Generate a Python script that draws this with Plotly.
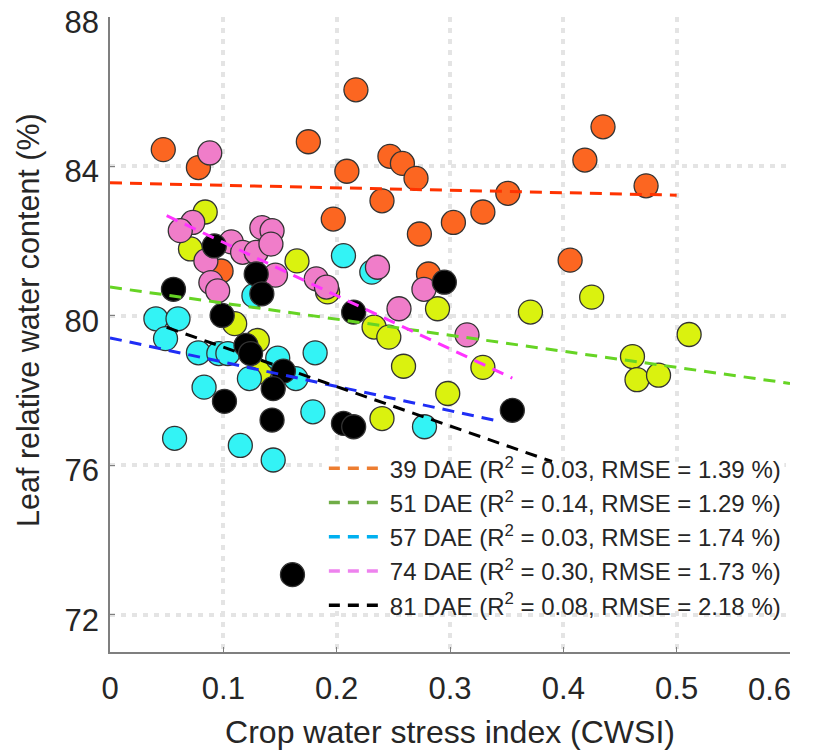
import plotly.graph_objects as go

# ---------------- data ----------------
series_names = ["39 DAE", "51 DAE", "57 DAE", "74 DAE", "81 DAE"]
r2_values = ["0.03", "0.14", "0.03", "0.30", "0.08"]
rmse_values = ["1.39", "1.29", "1.74", "1.73", "2.18"]

x_39 = [0.047, 0.078, 0.098, 0.175, 0.197, 0.209, 0.217, 0.240, 0.247, 0.258,
        0.270, 0.273, 0.281, 0.303, 0.329, 0.351, 0.406, 0.419, 0.435, 0.473]
y_39 = [84.45, 83.97, 81.20, 84.66, 82.59, 83.87, 86.05, 83.08, 84.27, 84.08,
        83.68, 82.19, 81.12, 82.50, 82.78, 83.28, 81.49, 84.17, 85.06, 83.48]

x_51 = [0.084, 0.071, 0.165, 0.192, 0.110, 0.130, 0.132, 0.233, 0.246, 0.259,
        0.289, 0.298, 0.329, 0.371, 0.425, 0.461, 0.465, 0.484, 0.511, 0.240]
y_51 = [82.78, 81.79, 81.47, 80.64, 79.79, 79.34, 78.50, 79.70, 79.43, 78.65,
        80.19, 77.92, 78.62, 80.10, 80.50, 78.91, 78.29, 78.41, 79.50, 77.25]

x_57 = [0.0405, 0.060, 0.049, 0.078, 0.096, 0.104, 0.123, 0.148, 0.164, 0.181,
        0.083, 0.179, 0.057, 0.115, 0.144, 0.127, 0.206, 0.231, 0.2775]
y_57 = [79.92, 79.92, 79.39, 79.01, 78.99, 78.99, 78.32, 78.87, 78.32, 79.01,
        78.09, 77.43, 76.72, 76.53, 76.14, 80.54, 81.61, 81.17, 77.03]

x_74 = [0.088, 0.073, 0.062, 0.0846, 0.089, 0.095, 0.107, 0.117, 0.129, 0.134,
        0.143, 0.142, 0.146, 0.182, 0.191, 0.236, 0.277, 0.255, 0.315]
y_74 = [84.36, 82.50, 82.28, 81.47, 80.89, 80.67, 81.98, 81.70, 81.70, 82.36,
        82.28, 81.92, 81.09, 80.99, 80.77, 81.30, 80.71, 80.19, 79.49]

x_81 = [0.092, 0.129, 0.134, 0.056, 0.099, 0.120, 0.124, 0.153, 0.144, 0.101,
        0.143, 0.206, 0.215, 0.215, 0.295, 0.355, 0.161]
y_81 = [81.87, 81.12, 80.59, 80.71, 80.01, 79.21, 78.99, 78.52, 78.05, 77.71,
        77.21, 77.12, 77.03, 80.10, 80.90, 77.47, 73.07]

# fitted regression lines (end points)
fit_x_39 = [0.0, 0.5]
fit_y_39 = [83.56, 83.23]
fit_x_51 = [0.0, 0.6]
fit_y_51 = [80.77, 78.19]
fit_x_57 = [0.0, 0.34]
fit_y_57 = [79.41, 77.20]
fit_x_74 = [0.05, 0.355]
fit_y_74 = [82.68, 78.33]
fit_x_81 = [0.05, 0.39]
fit_y_81 = [79.69, 76.10]

x_ticks = [0, 0.1, 0.2, 0.3, 0.4, 0.5, 0.6]
x_tick_labels = ["0", "0.1", "0.2", "0.3", "0.4", "0.5", "0.6"]
y_ticks = [72, 76, 80, 84, 88]
y_tick_labels = ["72", "76", "80", "84", "88"]

# ---------------- styles ----------------
marker_colors = ["#FC6621", "#DAF20F", "#33F3F5", "#F07DC9", "#000000"]
fit_colors = ["#FF3300", "#66D424", "#1F2EF5", "#FF33FF", "#000000"]
legend_colors = ["#ED7D31", "#70AD47", "#00B0F0", "#EE82EE", "#000000"]

FONT = "Arial, Liberation Sans, sans-serif"
TXT = "#262626"
TICK_SIZE = 31

scatter_x = [x_39, x_51, x_57, x_74, x_81]
scatter_y = [y_39, y_51, y_57, y_74, y_81]
fits_x = [fit_x_39, fit_x_51, fit_x_57, fit_x_74, fit_x_81]
fits_y = [fit_y_39, fit_y_51, fit_y_57, fit_y_74, fit_y_81]

fig = go.Figure()

for i in range(5):
    fig.add_trace(go.Scatter(
        x=scatter_x[i], y=scatter_y[i], mode="markers",
        marker=dict(size=24, color=marker_colors[i],
                    line=dict(color="#333333", width=1.3)),
        showlegend=False, hoverinfo="x+y"))

for i in range(5):
    fig.add_trace(go.Scatter(
        x=fits_x[i], y=fits_y[i], mode="lines",
        line=dict(color=fit_colors[i], width=3, dash="12px,8px"),
        showlegend=False, hoverinfo="skip"))

for i in range(5):
    fig.add_trace(go.Scatter(
        x=[None], y=[None], mode="lines",
        line=dict(color=legend_colors[i], width=3.5, dash="11px,8px"),
        name=f"{series_names[i]} (R<sup>2</sup> = {r2_values[i]}, RMSE = {rmse_values[i]} %)"))

axis_common = dict(
    showline=True, linecolor="#7F7F7F", linewidth=1.5,
    ticks="inside", ticklen=5, tickcolor="#7F7F7F", tickwidth=1.3,
    showgrid=True, gridcolor="#E4E4E4", gridwidth=4, griddash="5px,6px",
    zeroline=False, tickfont=dict(family=FONT, size=TICK_SIZE, color=TXT),
    automargin=False, ticklabeloverflow="allow",
)

# the last x tick label sits flush left of the axis end in the reference
x_text_shown = x_tick_labels[:-1] + [""]

fig.update_layout(
    width=809, height=742,
    margin=dict(l=102, r=27, t=9, b=98),
    plot_bgcolor="white", paper_bgcolor="white",
    font=dict(family=FONT, color=TXT),
    xaxis=dict(range=[0, 0.6], tickvals=x_ticks, ticktext=x_text_shown,
               ticklabelstandoff=8,
               title=dict(text="Crop water stress index (CWSI)",
                          font=dict(family=FONT, size=32, color=TXT), standoff=18),
               **axis_common),
    yaxis=dict(range=[71, 88], tickvals=y_ticks, ticktext=y_tick_labels,
               ticklabelstandoff=3, ticklabelshift=5, **axis_common),
    legend=dict(x=0.3145, y=0.324, xanchor="left", yanchor="top",
                bgcolor="rgba(0,0,0,0)", borderwidth=0,
                font=dict(family=FONT, size=24, color=TXT),
                itemwidth=56, tracegroupgap=0),
    shapes=[dict(type="rect", xref="x", yref="y",
                 x0=0.187, x1=0.595, y0=72.15, y1=76.09,
                 fillcolor="white", line=dict(width=0), layer="between")],
    annotations=[
        dict(x=x_ticks[-1], xref="x", y=0, yref="paper",
             text=x_tick_labels[-1], showarrow=False,
             xanchor="right", yanchor="top", xshift=3, yshift=-18,
             font=dict(family=FONT, size=TICK_SIZE, color=TXT)),
        dict(x=0, xref="paper", y=0.523, yref="paper",
             text="Leaf relative water content (%)", showarrow=False,
             textangle=-90, xanchor="center", yanchor="middle", xshift=-81,
             font=dict(family=FONT, size=30.5, color=TXT)),
    ],
)

fig.write_html("out.html")
